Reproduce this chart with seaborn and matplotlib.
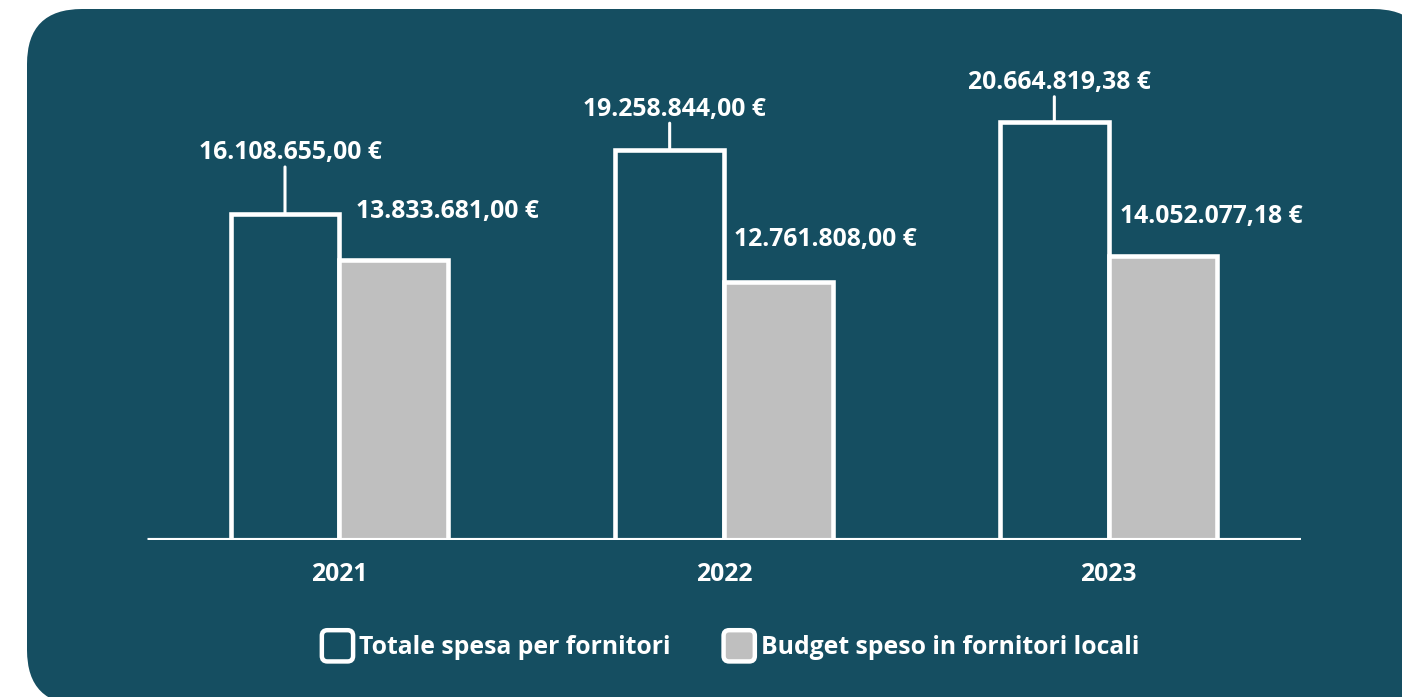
import matplotlib
matplotlib.use("Agg")
import matplotlib.pyplot as plt
from matplotlib.patches import FancyBboxPatch
from matplotlib.legend_handler import HandlerPatch
import seaborn as sns
import pandas as pd

# ---- data ----
years = ["2021", "2022", "2023"]
series = ["Totale spesa per fornitori", "Budget speso in fornitori locali"]
totale = [16108655.00, 19258844.00, 20664819.38]
locali = [13833681.00, 12761808.00, 14052077.18]
label_totale = ["16.108.655,00 €", "19.258.844,00 €", "20.664.819,38 €"]
label_locali = ["13.833.681,00 €", "12.761.808,00 €", "14.052.077,18 €"]

# ---- style ----
BG = "#154e61"
GREY = "#bfbfbf"
WHITE = "white"
FS = 17.8

sns.set_theme(style="white")
plt.rcParams["font.family"] = ["Open Sans", "DejaVu Sans"]
plt.rcParams["font.weight"] = "bold"

df = pd.DataFrame({
    "Anno": years * 2,
    "Serie": [series[0]] * 3 + [series[1]] * 3,
    "Valore": totale + locali,
})

W, H = 1402, 697
fig = plt.figure(figsize=(W / 100, H / 100), dpi=100, facecolor="white")

# rounded dark panel
panel = FancyBboxPatch((27 / 100, -8 / 100), 1401 / 100, 696 / 100,
                       boxstyle="round,pad=0,rounding_size=0.55",
                       transform=fig.dpi_scale_trans, facecolor=BG,
                       edgecolor="none", zorder=-10)
fig.patches.append(panel)

ax = fig.add_axes([147 / W, 157 / H, (1301 - 147) / W, 500 / H])
ax.set_facecolor("none")
ax.set_zorder(5)

sns.barplot(data=df, x="Anno", y="Valore", hue="Serie", order=years,
            hue_order=series, palette=[BG, GREY], saturation=1,
            width=0.565, edgecolor=WHITE, linewidth=3.3, legend=False, ax=ax)

ax.set_xlim(-0.5, 2.5)
ax.set_ylim(0, 500 / 20.24 * 1e6)
ax.axhline(0, color=WHITE, lw=3.7, zorder=5, solid_capstyle="butt")
for s in ax.spines.values():
    s.set_visible(False)
ax.set_yticks([])
ax.set_xlabel("")
ax.set_ylabel("")
ax.tick_params(axis="x", length=0, pad=15.5, labelsize=FS, labelcolor=WHITE)
for t in ax.get_xticklabels():
    t.set_fontweight("bold")

# value labels
tot_text_dy = [61, 41, 39]
loc_text_dx = [54, 47, 48]
loc_text_dy = [49, 42, 39]
for i, p in enumerate(ax.containers[0]):
    x = p.get_x() + p.get_width() / 2
    y = p.get_height()
    ax.annotate("", xy=(x, y), xytext=(0, tot_text_dy[i] - 14),
                textcoords="offset pixels",
                arrowprops=dict(arrowstyle="-", color=WHITE, lw=2.2,
                                shrinkA=0, shrinkB=0))
    ax.annotate(label_totale[i], xy=(x, y), xytext=(5, tot_text_dy[i]),
                textcoords="offset pixels", ha="center", va="center",
                color=WHITE, fontsize=FS, fontweight="bold")
for i, p in enumerate(ax.containers[1]):
    x = p.get_x() + p.get_width() / 2
    y = p.get_height()
    ax.annotate(label_locali[i], xy=(x, y), xytext=(loc_text_dx[i], loc_text_dy[i]),
                textcoords="offset pixels", ha="center", va="center",
                color=WHITE, fontsize=FS, fontweight="bold")


class RoundHandler(HandlerPatch):
    def create_artists(self, legend, orig_handle, xdescent, ydescent,
                       width, height, fontsize, trans):
        side = 22.5
        cx = -xdescent + width / 2
        cy = -ydescent + height / 2
        p = FancyBboxPatch((cx - side / 2, cy - side / 2), side, side,
                           boxstyle="round,pad=0,rounding_size=4",
                           facecolor=orig_handle.get_facecolor(),
                           edgecolor=WHITE, lw=3.2, transform=trans)
        return [p]


handles = [ax.containers[0][0], ax.containers[1][0]]
leg = fig.legend(handles, series, loc="center", bbox_to_anchor=(730 / W, 1 - 646 / H),
                 ncol=2, frameon=False, fontsize=FS, handlelength=1.35,
                 handleheight=1.35, handletextpad=0.2, columnspacing=2.1,
                 handler_map={h: RoundHandler() for h in handles},
                 prop={"weight": "bold", "size": FS})
for t in leg.get_texts():
    t.set_color(WHITE)

fig.savefig("out.png", dpi=100, facecolor="white")
